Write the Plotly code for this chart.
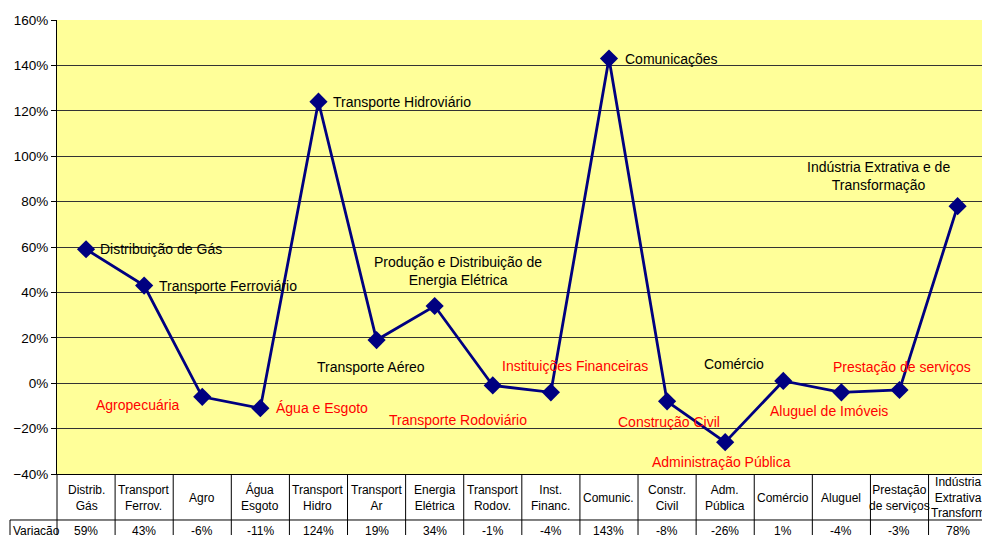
import plotly.graph_objects as go

# ── data ────────────────────────────────────────────────────────────
SHORT_LABELS = [
    "Distrib.<br>Gás", "Transport<br>Ferrov.", "Agro", "Água<br>Esgoto",
    "Transport<br>Hidro", "Transport<br>Ar", "Energia<br>Elétrica", "Transport<br>Rodov.",
    "Inst.<br>Financ.", "Comunic.", "Constr.<br>Civil", "Adm.<br>Pública",
    "Comércio", "Aluguel", "Prestação<br>de serviços", "Indústria<br>Extrativa<br>Transform",
]
VARIACAO = [59, 43, -6, -11, 124, 19, 34, -1, -4, 143, -8, -26, 1, -4, -3, 78]

# point labels: text, x (category index), y (value), anchor, colour
POINT_LABELS = [
    ("Distribuição de Gás", 0.21, 59, "left", "black"),
    ("Transporte Ferroviário", 1.22, 42.8, "left", "black"),
    ("Agropecuária", 0.88, -9.6, "center", "red"),
    ("Água e Esgoto", 3.24, -10.9, "left", "red"),
    ("Transporte Hidroviário", 4.22, 123.9, "left", "black"),
    ("Produção e Distribuição de<br>Energia Elétrica", 6.41, 49.4, "center", "black"),
    ("Transporte Aéreo", 4.9, 7.1, "center", "black"),
    ("Transporte Rodoviário", 6.4, -16.2, "center", "red"),
    ("Instituições Financeiras", 8.41, 7.6, "center", "red"),
    ("Comunicações", 9.24, 142.8, "left", "black"),
    ("Construção Civil", 10.03, -17.1, "center", "red"),
    ("Administração Pública", 10.93, -34.7, "center", "red"),
    ("Comércio", 11.16, 8.5, "center", "black"),
    ("Aluguel de Imóveis", 12.78, -12.2, "center", "red"),
    ("Prestação de serviços", 14.05, 7.1, "center", "red"),
    ("Indústria Extrativa e de<br>Transformação", 13.64, 91.3, "center", "black"),
]
# ────────────────────────────────────────────────────────────────────

FONT = "Liberation Sans, Arial, sans-serif"
x = list(range(len(VARIACAO)))

fig = go.Figure()
fig.add_trace(
    go.Scatter(
        x=x,
        y=VARIACAO,
        mode="lines+markers",
        line=dict(color="#000080", width=2.8),
        marker=dict(symbol="diamond", size=14, color="#000080"),
        cliponaxis=False,
        showlegend=False,
    )
)

for text, xa, ya, anchor, color in POINT_LABELS:
    fig.add_annotation(
        x=xa, y=ya, xref="x", yref="y", text=text, showarrow=False,
        xanchor=anchor, yanchor="middle", align="center",
        font=dict(family=FONT, size=14, color=color),
    )

# ── data table under the plot ───────────────────────────────────────
TBL_BOTTOM = -0.16
ROW_LINE = -0.1013
for i, (lab, val) in enumerate(zip(SHORT_LABELS, VARIACAO)):
    fig.add_annotation(
        x=i, y=-0.0518, xref="x", yref="paper", text=lab, showarrow=False,
        yanchor="middle", align="center",
        font=dict(family=FONT, size=12, color="black"),
    )
    fig.add_annotation(
        x=i, y=-0.1256, xref="x", yref="paper", text=f"{val}%", showarrow=False,
        yanchor="middle", font=dict(family=FONT, size=12, color="black"),
    )
fig.add_annotation(
    x=-0.0495, y=-0.1256, xref="paper", yref="paper", text="Variação", showarrow=False,
    xanchor="left", yanchor="middle", font=dict(family=FONT, size=12, color="black"),
)

for k in range(len(VARIACAO)):
    fig.add_shape(type="line", xref="x", yref="paper", x0=k + 0.5, x1=k + 0.5,
                  y0=0, y1=TBL_BOTTOM, line=dict(color="black", width=1))
fig.add_shape(type="line", xref="paper", yref="paper", x0=0, x1=0,
              y0=0, y1=TBL_BOTTOM, line=dict(color="black", width=1))
fig.add_shape(type="line", xref="paper", yref="paper", x0=-0.0508, x1=1,
              y0=ROW_LINE, y1=ROW_LINE, line=dict(color="black", width=1))
fig.add_shape(type="line", xref="paper", yref="paper", x0=-0.0508, x1=-0.0508,
              y0=ROW_LINE, y1=TBL_BOTTOM, line=dict(color="black", width=1))

# ── layout ─────────────────────────────────────────────────────────
fig.update_xaxes(
    range=[-0.5, 15.42], showgrid=False, showticklabels=False, zeroline=False,
    showline=True, linecolor="black", linewidth=1, ticks="", automargin=False,
)
fig.update_yaxes(
    range=[-40, 160], dtick=20, ticksuffix="%", showgrid=True, gridcolor="#333333",
    gridwidth=1, zeroline=False, showline=True, linecolor="black", linewidth=1,
    ticks="outside", ticklen=5, tickcolor="black", automargin=False,
    tickfont=dict(family=FONT, size=13.5, color="black"),
)
fig.update_layout(
    width=982, height=535,
    margin=dict(l=57, r=0, t=20, b=61),
    plot_bgcolor="#FFFF99", paper_bgcolor="white",
    font=dict(family=FONT),
)

# drop the page's default body margin so the figure fills the window
POST = (
    "document.body.style.margin='0';"
    "document.body.style.overflow='hidden';"
    "Plotly.relayout('{plot_id}', {width: 982, height: 535});"
)
fig.write_html("out.html", post_script=POST, config={"displayModeBar": False})
